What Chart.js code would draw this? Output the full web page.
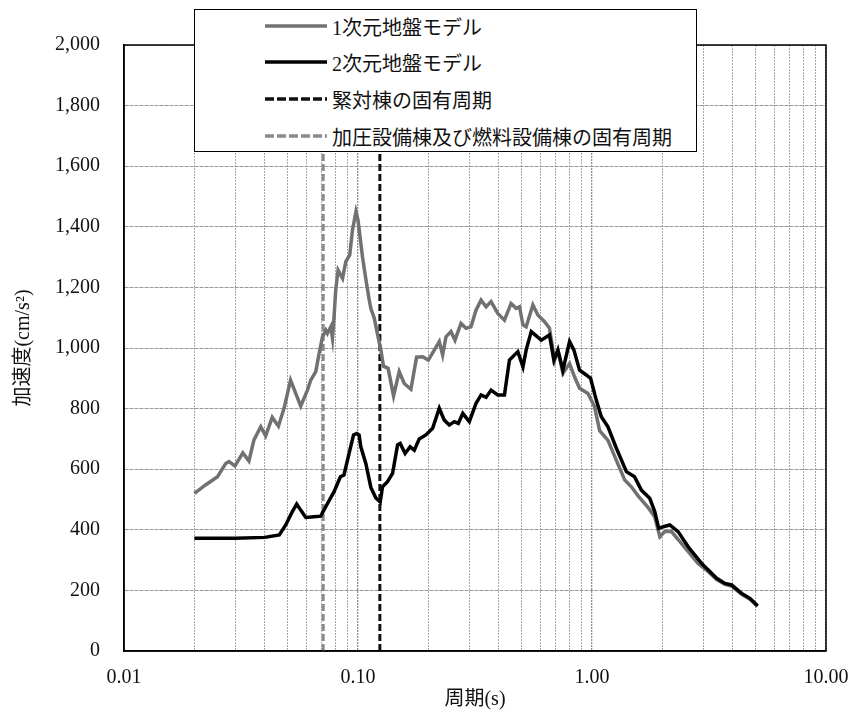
<!DOCTYPE html>
<html>
<head>
<meta charset="utf-8">
<script src="https://cdn.jsdelivr.net/npm/chart.js@4/dist/chart.umd.min.js"></script>
<style>
  body { margin: 0; background: #fff; }
  #wrap { position: relative; width: 853px; height: 720px; }
  #legend {
    position: absolute; left: 194px; top: 9px; width: 503px; height: 143px;
    box-sizing: border-box; border: 1.5px solid #000; background: #fff;
    font-family: 'Liberation Serif', 'Noto Sans CJK JP', serif; font-size: 20px; color: #111;
  }
  .row { position: absolute; left: 70px; height: 24px; display: flex; align-items: center; white-space: nowrap; }
  .row svg { width: 64px; height: 10px; margin-right: 3px; }
</style>
</head>
<body>
<div id="wrap">
  <canvas id="myChart" width="853" height="720"></canvas>
  <div id="legend"></div>
</div>
<script>
//--------------------- Data ---------------------

// 1次元地盤モデル
const periods1D = [0.02, 0.0223, 0.0251, 0.0272, 0.0281, 0.0298, 0.0322, 0.0342, 0.0359, 0.0384, 0.0403, 0.043, 0.0457, 0.0483,
  0.0515, 0.0569, 0.0608, 0.0628, 0.066, 0.0682, 0.0705, 0.0728, 0.074, 0.0765, 0.0778, 0.079, 0.0803, 0.0822, 0.0859,
  0.0887, 0.0922, 0.0947, 0.098, 0.1, 0.1045, 0.108, 0.1116, 0.1135, 0.1172, 0.1231, 0.1253, 0.1285, 0.1345, 0.1419,
  0.15, 0.1576, 0.1683, 0.178, 0.189, 0.1997, 0.2118, 0.2225, 0.23, 0.2377, 0.2497, 0.2597, 0.2755, 0.2895, 0.304,
  0.3193, 0.3356, 0.3526, 0.3704, 0.3957, 0.4225, 0.451, 0.474, 0.49, 0.507, 0.523, 0.559, 0.587, 0.627, 0.658, 0.692,
  0.715, 0.751, 0.802, 0.842, 0.885, 0.961, 1.026, 1.078, 1.17, 1.27, 1.38, 1.473, 1.574, 1.738, 1.854, 1.95, 2.046,
  2.186, 2.41, 2.84, 3.14, 3.41, 3.7, 3.95, 4.36, 4.73, 5.1];
const accel1D = [520, 548, 575, 619, 625, 611, 654, 627, 696, 740, 710, 771, 742, 801,
  894, 808, 861, 894, 922, 982, 1037, 1059, 1048, 1070, 1032, 1103, 1191, 1257, 1230,
  1285, 1307, 1389, 1450, 1422, 1301, 1228, 1160, 1130, 1100, 1020, 993, 940, 933, 842,
  922, 883, 864, 970, 971, 960, 993, 1021, 977, 1037, 1054, 1026, 1081, 1065, 1070,
  1125, 1158, 1136, 1153, 1114, 1092, 1147, 1131, 1136, 1076, 1070, 1142, 1109, 1087, 1065, 960,
  993, 916, 949, 905, 867, 850, 806, 727, 695, 630, 564, 542, 512, 473, 443, 377, 394,
  394, 355, 289, 262, 236, 220, 214, 187, 171, 147];

// 2次元地盤モデル
const periods2D = [0.02, 0.03, 0.04, 0.0461, 0.0491, 0.0524, 0.0547, 0.0569, 0.0598, 0.0649, 0.0693, 0.0728, 0.079, 0.0841,
  0.0871, 0.0916, 0.0957, 0.0988, 0.1011, 0.1028, 0.108, 0.1135, 0.1192, 0.1244, 0.1273, 0.1337, 0.1405, 0.1476, 0.1515,
  0.159, 0.167, 0.174, 0.1827, 0.195, 0.2084, 0.2225, 0.2337, 0.2456, 0.258, 0.2683, 0.2804, 0.299, 0.3193, 0.3356,
  0.3526, 0.3704, 0.3957, 0.4225, 0.4438, 0.482, 0.507, 0.523, 0.55, 0.607, 0.658, 0.687, 0.715, 0.751, 0.802, 0.837,
  0.885, 0.945, 0.986, 1.043, 1.096, 1.17, 1.27, 1.403, 1.52, 1.625, 1.765, 1.854, 1.928, 2.014, 2.15, 2.333, 2.576,
  2.94, 3.14, 3.41, 3.7, 3.95, 4.36, 4.73, 5.1];
const accel2D = [372, 372, 375, 383, 416, 460, 485, 465, 441, 443, 445, 476, 526, 575,
  581, 652, 713, 718, 713, 674, 619, 540, 505, 492, 542, 559, 586, 680, 685,
  652, 674, 663, 700, 713, 735, 801, 762, 746, 757, 751, 784, 757, 817, 845,
  837, 861, 845, 845, 960, 988, 938, 993, 1054, 1026, 1043, 960, 993, 927, 1021, 993,
  927, 911, 900, 828, 773, 740, 670, 592, 575, 531, 504, 460, 405, 410, 416, 394, 344,
  289, 267, 240, 223, 218, 190, 174, 149];

// 固有周期
const mainBuildingPeriod = 0.124;   // 緊対棟
const otherBuildingPeriod = 0.071;  // 加圧設備棟及び燃料設備棟

const legendLabels = ["1次元地盤モデル", "2次元地盤モデル", "緊対棟の固有周期", "加圧設備棟及び燃料設備棟の固有周期"];
const xTickValues = [0.01, 0.1, 1, 10];
const xTickLabels = ["0.01", "0.10", "1.00", "10.00"];
const yMax = 2000;
const yStep = 200;

//--------------------- Chart ---------------------

const toPoints = (xs, ys) => xs.map((x, i) => ({ x: x, y: ys[i] }));
const vertical = (x) => [{ x: x, y: 0 }, { x: x, y: yMax }];

const gray1D = "#717171";
const gray2 = "#8a8a8a";

// minor ticks 1..9 in each decade
const buildLogTicks = () => {
  const ticks = [];
  for (let e = -2; e < 1; e++) {
    for (let m = 1; m < 10; m++) ticks.push({ value: +(m * Math.pow(10, e)).toPrecision(3) });
  }
  ticks.push({ value: 10 });
  return ticks;
};

const tickLabel = (v) => {
  const i = xTickValues.findIndex((t) => Math.abs(t - v) < 1e-9);
  return i >= 0 ? xTickLabels[i] : "";
};

const frame = {
  id: "frame",
  afterDraw(chart) {
    const { ctx, chartArea: a } = chart;
    ctx.save();
    ctx.strokeStyle = "#000";
    ctx.lineWidth = 1.5;
    ctx.strokeRect(a.left, a.top, a.right - a.left, a.bottom - a.top);
    ctx.restore();
  },
};

const tickFont = { family: "'Liberation Serif', serif", size: 20 };
const titleFont = { family: "'Liberation Serif', 'Noto Sans CJK JP', serif", size: 20 };

const ctx = document.getElementById("myChart").getContext("2d");
const myChart = new Chart(ctx, {
  type: "line",
  data: {
    datasets: [
      { label: legendLabels[0], data: toPoints(periods1D, accel1D), borderColor: gray1D, borderWidth: 3.5, order: 2 },
      { label: legendLabels[1], data: toPoints(periods2D, accel2D), borderColor: "#000", borderWidth: 3.5, order: 1 },
      { label: legendLabels[2], data: vertical(mainBuildingPeriod), borderColor: "#111", borderWidth: 3, borderDash: [7, 3], order: 3 },
      { label: legendLabels[3], data: vertical(otherBuildingPeriod), borderColor: gray2, borderWidth: 3, borderDash: [7, 3], order: 4 },
    ],
  },
  options: {
    responsive: false,
    animation: false,
    elements: { point: { radius: 0 }, line: { tension: 0 } },
    layout: { padding: { top: 45, right: 27, left: 0, bottom: 0 } },
    plugins: { legend: { display: false }, tooltip: { enabled: false } },
    scales: {
      x: {
        type: "logarithmic",
        min: 0.01,
        max: 10,
        afterBuildTicks: (scale) => { scale.ticks = buildLogTicks(); },
        afterFit: (scale) => {
          scale.height = 69;
          scale.paddingLeft = 0;
          scale.paddingRight = 0;
        },
        ticks: { autoSkip: false, maxRotation: 0, padding: 15, color: "#111", font: tickFont, callback: (v) => tickLabel(v) },
        grid: {
          drawTicks: false,
          color: (c) => (tickLabel(c.tick.value) ? "#8c8c8c" : "#a8a8a8"),
          lineWidth: (c) => (tickLabel(c.tick.value) ? 1.3 : 1),
        },
        border: { color: "#000", width: 1.5, dash: [2, 1] },
        title: { display: true, text: "周期(s)", color: "#111", font: titleFont, padding: { top: 0, bottom: 8 } },
      },
      y: {
        min: 0,
        max: yMax,
        afterFit: (scale) => {
          scale.width = 124;
          scale.paddingTop = 0;
          scale.paddingBottom = 0;
        },
        ticks: { stepSize: yStep, padding: 24, color: "#111", font: tickFont, callback: (v) => v.toLocaleString("en-US") },
        grid: { drawTicks: false, color: "#999", lineWidth: 1 },
        border: { color: "#000", width: 1.5, dash: [4, 1] },
        title: { display: true, text: "加速度(cm/s²)", color: "#111", font: titleFont, padding: { top: 12, bottom: 0 } },
      },
    },
  },
  plugins: [frame],
});

//--------------------- Legend ---------------------

const legendStyles = [
  { color: gray1D, dash: "" },
  { color: "#000", dash: "" },
  { color: "#111", dash: "9 3" },
  { color: gray2, dash: "9 3" },
];
const legendRows = [16, 52, 89, 126];

const legendEl = document.getElementById("legend");
legendLabels.forEach((label, i) => {
  const row = document.createElement("div");
  row.className = "row";
  row.style.top = legendRows[i] - 12 + "px";
  const s = legendStyles[i];
  row.innerHTML =
    '<svg viewBox="0 0 64 10"><line x1="0" y1="5" x2="62" y2="5" stroke="' + s.color +
    '" stroke-width="3.5" stroke-dasharray="' + s.dash + '"/></svg><span>' + label + "</span>";
  legendEl.appendChild(row);
});
</script>
</body>
</html>
